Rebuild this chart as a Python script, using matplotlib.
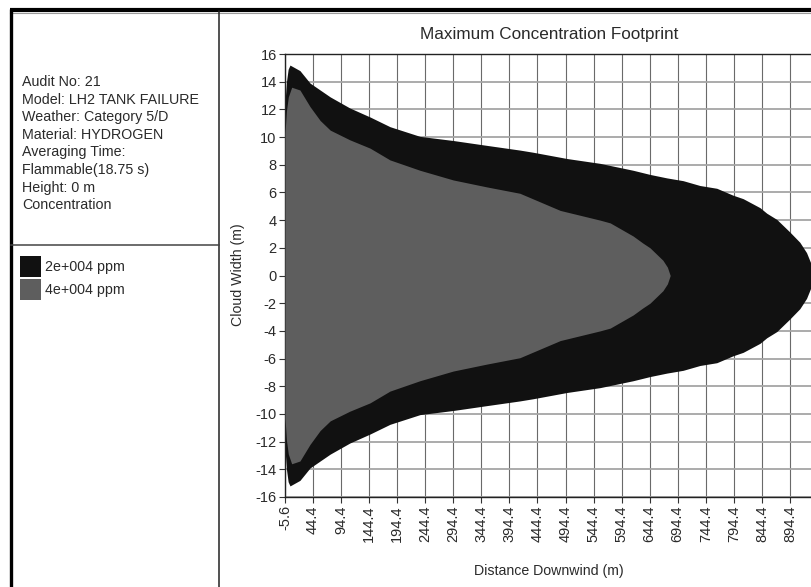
import matplotlib
matplotlib.use('Agg')
import matplotlib.pyplot as plt
import numpy as np

# ---------------- data ----------------
x_outer = [-5.6, -3.0, 0.0, 3.3, 21.0, 39.0, 57.0, 75.0, 110.0, 146.0, 181.5, 235.0,
           294.4, 354.0, 413.0, 437.0, 497.0, 556.0, 615.0, 645.0, 675.0, 704.0,
           734.0, 764.0, 793.0, 811.0, 841.0, 853.0, 871.0, 894.0, 912.0, 924.0,
           931.0, 934.0, 935.5]
w_outer = [12.5, 14.0, 14.9, 15.2, 14.8, 13.9, 13.4, 12.9, 12.1, 11.45, 10.75, 10.05,
           9.75, 9.4, 9.06, 8.9, 8.45, 8.1, 7.6, 7.3, 7.05, 6.85,
           6.5, 6.3, 5.8, 5.55, 4.9, 4.5, 4.05, 3.15, 2.4, 1.65,
           0.95, 0.35, 0.0]

x_inner = [-5.6, -3.0, 0.3, 6.3, 21.0, 39.0, 57.0, 75.0, 110.0, 146.0, 181.5, 235.0,
           294.4, 354.0, 413.0, 485.0, 556.0, 574.0, 615.0, 632.0, 645.0, 668.0,
           676.0, 681.0]
w_inner = [10.3, 11.9, 12.9, 13.6, 13.4, 12.2, 11.2, 10.5, 9.8, 9.2, 8.35, 7.6,
           6.9, 6.4, 5.94, 4.7, 4.0, 3.8, 2.85, 2.35, 2.0, 1.1,
           0.6, 0.0]

x_ticks = [-5.6, 44.4, 94.4, 144.4, 194.4, 244.4, 294.4, 344.4, 394.4, 444.4, 494.4,
           544.4, 594.4, 644.4, 694.4, 744.4, 794.4, 844.4, 894.4]
y_ticks = list(range(-16, 17, 2))

info_lines = ["Audit No: 21", "Model: LH2 TANK FAILURE", "Weather: Category 5/D",
              "Material: HYDROGEN", "Averaging Time:", "Flammable(18.75 s)",
              "Height: 0 m", "Concentration"]
legend_labels = ["2e+004 ppm", "4e+004 ppm"]
fill_colors = ["#111111", "#5e5e5e"]

title = "Maximum Concentration Footprint"
xlabel = "Distance Downwind (m)"
ylabel = "Cloud Width (m)"

# ---------------- fonts ----------------
plt.rcParams['font.family'] = ["Liberation Sans", "DejaVu Sans"]
txt_col = "#2a2a2a"

W, H = 812, 587
fig = plt.figure(figsize=(W / 100, H / 100), dpi=100)
fig.patch.set_facecolor("white")

# ---------------- main axes ----------------
ax = fig.add_axes([285 / W, 1 - 497 / H, 528 / W, 443 / H])
ax.set_axisbelow(True)
ax.fill_between(x_outer, -np.array(w_outer), np.array(w_outer),
                color=fill_colors[0], lw=0, zorder=2)
ax.fill_between(x_inner, -np.array(w_inner), np.array(w_inner),
                color=fill_colors[1], lw=0, zorder=3)
ax.set_xlim(-5.6, 935.5)
ax.set_ylim(-16, 16)
ax.set_xticks(x_ticks)
ax.set_xticklabels([f"{v:.1f}" for v in x_ticks], rotation=90,
                   fontsize=10.5, color=txt_col)
ax.set_yticks(y_ticks)
ax.set_yticklabels([str(v) for v in y_ticks], fontsize=10.5, color=txt_col)
ax.tick_params(axis='both', length=4, width=0.8, color="#333333", pad=2)
for xv in x_ticks:
    ax.axvline(xv, color="#6a6a6a", lw=0.8, zorder=1)
for yv in y_ticks:
    ax.axhline(yv, color="#a5a5a5", lw=1.3, zorder=1)
for s in ["left", "bottom", "top"]:
    ax.spines[s].set_color("#222222")
    ax.spines[s].set_linewidth(1.0)
ax.spines["right"].set_visible(False)

# ---------------- overlay (panel, text) ----------------
ov = fig.add_axes([0, 0, 1, 1])
ov.set_xlim(0, W)
ov.set_ylim(H, 0)
ov.axis('off')
ov.set_zorder(5)

ov.plot([10, W], [10, 10], color="black", lw=3.0, solid_capstyle='butt')
ov.plot([10, W], [12.8, 12.8], color="#9a9a9a", lw=0.8)
ov.plot([11.5, 11.5], [9, H], color="black", lw=2.4, solid_capstyle='butt')
ov.plot([219, 219], [11, H], color="#222222", lw=1.1)
ov.plot([11, 219], [245, 245], color="#444444", lw=1.1)

ov.text(549, 35, title, ha='center', va='center', fontsize=12.3, color=txt_col)
ov.text(549, 571, xlabel, ha='center', va='center', fontsize=10.2, color=txt_col)
ov.text(238, 275, ylabel, ha='center', va='center', rotation=90,
        fontsize=10.2, color=txt_col)

for i, line in enumerate(info_lines):
    ov.text(22, 82 + i * 17.6, line, ha='left', va='center',
            fontsize=10.3, color=txt_col)

for i, (lab, col) in enumerate(zip(legend_labels, fill_colors)):
    y0 = 256 + i * 23
    ov.add_patch(plt.Rectangle((20, y0), 21, 21, facecolor=col, edgecolor="none"))
    ov.text(45, y0 + 11, lab, ha='left', va='center', fontsize=10.3, color=txt_col)

fig.savefig("out.png", dpi=100)
